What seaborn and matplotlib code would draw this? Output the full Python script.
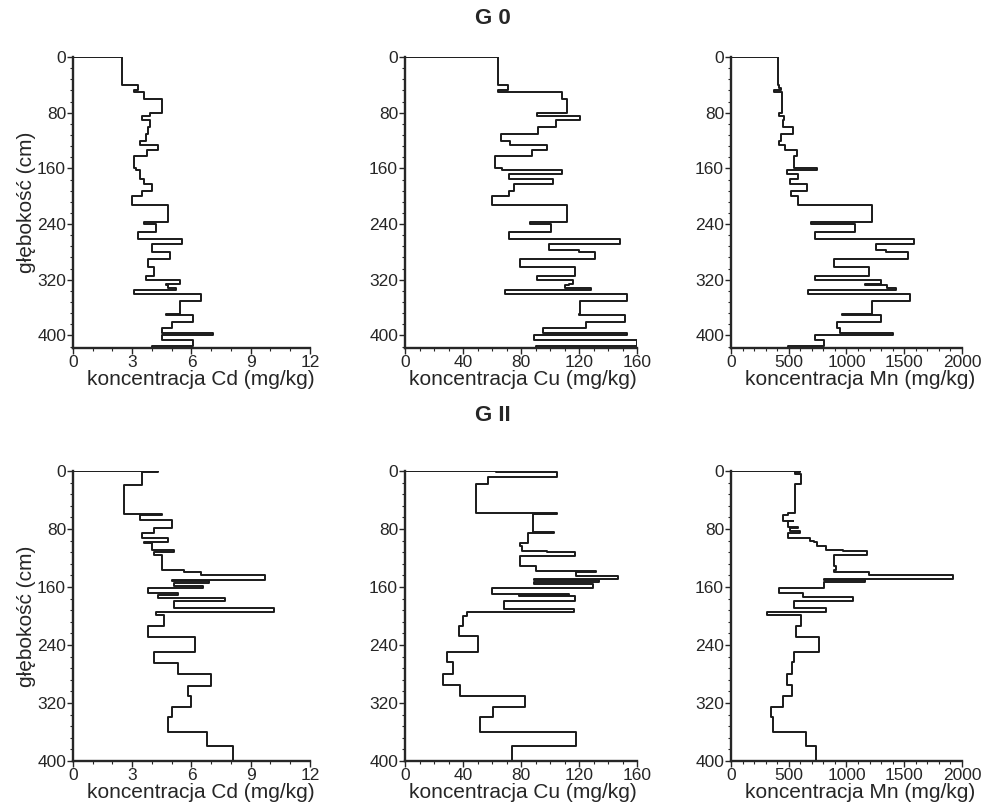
import numpy as np
import pandas as pd
import seaborn as sns
import matplotlib.pyplot as plt
from matplotlib.ticker import MultipleLocator, AutoMinorLocator

# G 0 - granice warstw (cm), wspolne dla Cd, Cu, Mn
g0_depth = [0, 40, 44, 47, 50, 60, 80, 85, 90, 100, 111, 120, 126, 134, 142, 160,
            163, 168, 175, 182, 192, 199, 212, 237, 240, 252, 262, 268, 277, 280,
            290, 301, 315, 320, 326, 328, 332, 335, 340, 350, 369, 371, 380, 390,
            396, 400, 406, 415, 418]
g0_cd = [2.5, 3.3, 3.3, 3.1, 3.6, 4.5, 3.9, 3.5, 3.9, 3.8, 3.7, 3.4, 4.3, 3.75, 3.07,
         3.2, 3.37, 3.37, 3.6, 4.0, 3.5, 3.0, 4.8, 3.6, 4.2, 3.3, 5.5, 4.0, 4.0, 4.9,
         3.8, 4.1, 3.7, 5.4, 4.7, 4.8, 5.2, 3.1, 6.5, 5.4, 4.7, 6.1, 5.0, 4.5, 7.1,
         4.5, 6.1, 4.0]
g0_cu = [64, 71, 71, 64, 108, 112, 91, 121, 104, 92, 66, 72.5, 98, 87.5, 62, 67, 108,
         72, 102, 75, 72, 60, 112, 86, 101, 72, 148, 99, 120, 131, 79, 117, 91, 116,
         113, 110, 128, 69, 153, 121, 120, 152, 125, 95, 153, 89, 160, 90]
g0_mn = [405, 420, 433, 375, 440, 445, 416, 462, 454, 540, 433, 416, 468, 575, 550,
         743, 483, 578, 512, 656, 517, 584, 1225, 694, 1070, 728, 1581, 1254, 1344,
         1529, 896, 1191, 728, 1300, 1162, 1350, 1428, 665, 1546, 1220, 960, 1300,
         916, 945, 1407, 728, 809, 497]

# G II
g2_cd_depth = [0, 1.5, 19, 59, 61, 68, 78, 85, 92, 98, 99, 109, 112, 116, 137, 139,
               144, 150, 152, 154, 158, 162, 168, 171, 175, 180, 189, 194, 199, 214,
               229, 250, 265, 280, 296, 310, 325, 340, 360, 380, 400]
g2_cd = [4.3, 3.5, 2.6, 4.5, 3.4, 5.0, 4.1, 3.5, 4.8, 3.6, 4.0, 5.1, 4.1, 4.5, 5.6,
         6.5, 9.7, 5.0, 6.9, 5.1, 6.6, 3.8, 5.3, 4.3, 7.7, 5.1, 10.2, 4.2, 4.6, 3.8,
         6.2, 4.1, 5.3, 7.0, 5.8, 6.0, 5.0, 4.8, 6.8, 8.1]
g2_cu_depth = [0, 1.5, 8.4, 18.5, 58, 60, 84, 86, 99, 103, 110, 111.5, 117, 131, 138,
               140, 145, 149, 151, 153, 156, 162, 169, 171, 173, 179.5, 190, 195, 200,
               214, 228, 250, 264, 280, 295, 310, 325, 340, 360, 380, 400]
g2_cu = [63, 105, 57, 49, 104.6, 88, 103, 85, 79, 81, 98, 117, 79, 90, 131.6, 118,
         146.6, 89, 133.5, 89, 129.5, 60, 113, 78.5, 117, 68, 116.6, 43, 40, 37, 50,
         29, 33, 26, 37.6, 83, 61, 52, 118, 74]
g2_mn_depth = [0, 1.4, 4.2, 17.6, 57.8, 60.6, 68.5, 69.4, 77.7, 79, 83.2, 86, 93,
               96.2, 98.5, 103, 108.7, 111, 116, 131, 137, 139, 143.8, 149.4, 150.8,
               152.5, 162, 168, 174, 179.5, 188.7, 194, 199.3, 214, 229, 250, 264,
               280, 295, 310, 325, 340, 360, 380, 400]
g2_mn = [595, 551, 609, 551, 492, 448, 536, 498, 580, 507, 595, 492, 682, 720, 741,
         820, 970, 1175, 896, 910, 896, 1195, 1921, 808, 1157, 808, 413, 624, 1054,
         542, 823, 316, 603, 566, 761, 545, 530, 483, 530, 448, 345, 360, 653, 735]

elements = ['Cd', 'Cu', 'Mn']
x_max = [12, 160, 2000]
x_step = [3, 40, 500]
x_minor = [3, 4, 5]
y_ticks = [0, 80, 160, 240, 320, 400]
xlabel_x = [0.54, 0.51, 0.56]


def step_profile(depth, values):
    # obrys schodkowy: (0,top) -> (v1,top) -> (v1,d1) -> (v2,d1) ... -> (0,bottom)
    depth = np.asarray(depth, float)
    values = np.asarray(values, float)
    y = np.concatenate([[depth[0]], np.repeat(depth, 2)[1:-1], [depth[-1]]])
    x = np.concatenate([[0], np.repeat(values, 2), [0]])
    return pd.DataFrame({'konc': x, 'gleb': y})


sns.set_style('ticks')
plt.rcParams['font.family'] = ['Liberation Sans', 'DejaVu Sans']

fig = plt.figure(figsize=(9.85, 8.07), dpi=100)
lefts = [0.0741, 0.4112, 0.7421]
widths = [0.2406, 0.2355, 0.2345]
rows = [
    (0.5688, 0.3606, 418, [(g0_depth, g0_cd), (g0_depth, g0_cu), (g0_depth, g0_mn)]),
    (0.0570, 0.3594, 400, [(g2_cd_depth, g2_cd), (g2_cu_depth, g2_cu), (g2_mn_depth, g2_mn)]),
]

for bottom, height, ymax, profiles in rows:
    for i, (dep, val) in enumerate(profiles):
        ax = fig.add_axes([lefts[i], bottom, widths[i], height])
        df = step_profile(dep, val)
        sns.lineplot(data=df, x='konc', y='gleb', sort=False, estimator=None,
                     color='#1a1a1a', lw=1.4, ax=ax)
        ax.set_xlim(0, x_max[i])
        ax.set_ylim(ymax, 0)
        ax.xaxis.set_major_locator(MultipleLocator(x_step[i]))
        ax.xaxis.set_minor_locator(AutoMinorLocator(x_minor[i]))
        ax.set_yticks(y_ticks)
        ax.yaxis.set_minor_locator(AutoMinorLocator(5))
        ax.tick_params(which='major', length=4, width=1, labelsize=12.5, pad=1)
        ax.tick_params(which='minor', length=2, width=0.8)
        for s in ['left', 'bottom']:
            ax.spines[s].set_linewidth(1.7)
        sns.despine(ax=ax)
        ax.set_xlabel('koncentracja %s (mg/kg)' % elements[i], fontsize=15, labelpad=0)
        ax.xaxis.label.set_x(xlabel_x[i])
        if i == 0:
            ax.set_ylabel('głębokość (cm)', fontsize=15, labelpad=1)
        else:
            ax.set_ylabel('')

fig.text(0.5, 0.977, 'G 0', ha='center', va='center', fontsize=16, fontweight='bold')
fig.text(0.5, 0.485, 'G II', ha='center', va='center', fontsize=16, fontweight='bold')

fig.savefig('out.png', dpi=100)
